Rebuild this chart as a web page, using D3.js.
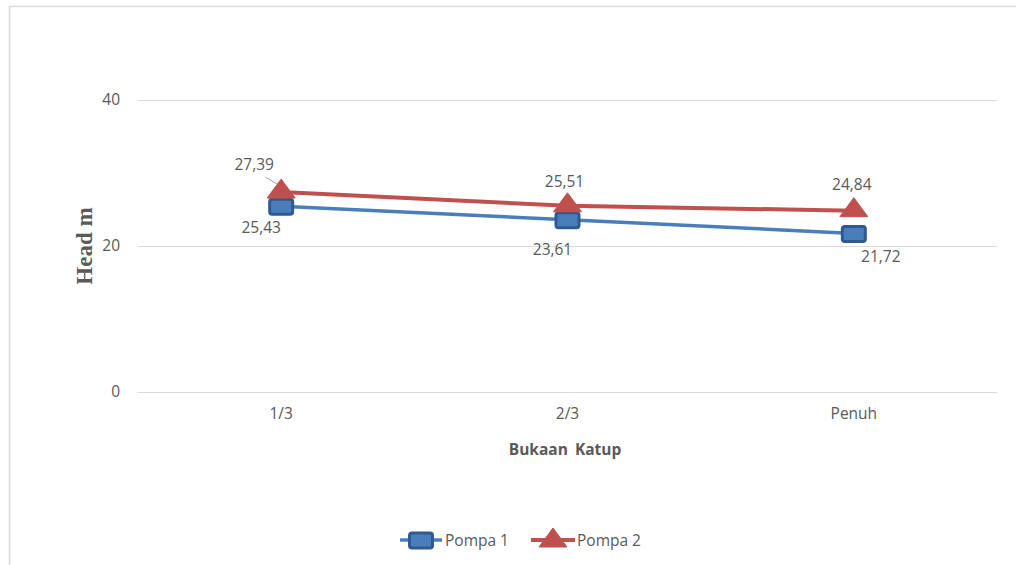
<!DOCTYPE html>
<html><head><meta charset="utf-8">
<script src="https://cdn.jsdelivr.net/npm/d3@7"></script>
<style>body{margin:0;background:#fff}svg{display:block}</style>
</head><body><svg id="c" width="1016" height="565"></svg>
<script>
const categories = ["1/3", "2/3", "Penuh"];
const pompa1 = [25.43, 23.61, 21.72];
const pompa2 = [27.39, 25.51, 24.84];
const yTicks = [0, 20, 40];
const seriesNames = ["Pompa 1", "Pompa 2"];

const svg = d3.select("#c");
const font = "'Open Sans', 'Noto Sans', sans-serif";
const grey = "#595959";
const blue = "#4a7ebb", blueDark = "#2f5a91", red = "#c0504d";
const fs = 15.5;

// chart border
svg.append("path").attr("d", "M9.5,1016 V6.5 H1016").attr("fill","none").attr("stroke","#d9d9d9").attr("stroke-width",1.5);

const plot = {l:138, r:997, t:100, b:392};
const x = d3.scaleBand().domain(categories).range([plot.l, plot.r]);
const y = d3.scaleLinear().domain([0, 40]).range([plot.b, plot.t]);

// gridlines
svg.append("g").selectAll("line").data(yTicks).join("line")
  .attr("x1", plot.l).attr("x2", plot.r)
  .attr("y1", d => y(d)+0.5).attr("y2", d => y(d)+0.5)
  .attr("stroke", "#d9d9d9").attr("stroke-width", 1);

// y axis
const yAx = svg.append("g").attr("transform", `translate(${plot.l},0)`)
  .call(d3.axisLeft(y).tickValues(yTicks).tickSize(0).tickPadding(18));
yAx.select(".domain").remove();
yAx.selectAll("text").attr("font-family", font).attr("font-size", fs).attr("fill", grey);

// x axis
const xAx = svg.append("g").attr("transform", `translate(0,${plot.b})`)
  .call(d3.axisBottom(x).tickSize(0).tickPadding(16));
xAx.select(".domain").remove();
xAx.selectAll("text").attr("font-family", font).attr("font-size", fs).attr("fill", grey);

// axis titles
svg.append("text").attr("x", 565).attr("y", 455).attr("text-anchor","middle")
  .attr("font-family", font).attr("font-size", 15.5).attr("font-weight","bold").attr("fill", grey)
  .attr("word-spacing", 3).text("Bukaan Katup");
svg.append("text").attr("transform","translate(92,246) rotate(-90)").attr("text-anchor","middle")
  .attr("font-family","'Liberation Serif', serif").attr("font-size", 23).attr("font-weight","bold").attr("fill", grey)
  .text("Head m");

const cx = c => x(c) + x.bandwidth()/2;
const line = d3.line().x((d,i) => cx(categories[i])).y(d => y(d));

svg.append("path").datum(pompa1).attr("d", line).attr("fill","none").attr("stroke", blue).attr("stroke-width", 3.5);
svg.append("path").datum(pompa2).attr("d", line).attr("fill","none").attr("stroke", red).attr("stroke-width", 4);

function square(g, px, py) {
  g.append("rect").attr("x", px-11.5).attr("y", py-7).attr("width", 23).attr("height", 15).attr("rx", 2.5)
    .attr("fill", blue).attr("stroke", blueDark).attr("stroke-width", 3);
}
function triangle(g, px, py) {
  g.append("path").attr("d", `M${px},${py-13} L${px+14},${py+6} L${px-14},${py+6} Z`)
    .attr("fill", red).attr("stroke", red).attr("stroke-width", 1).attr("stroke-linejoin","round");
}

const mk = svg.append("g");
pompa1.forEach((v,i) => square(mk, cx(categories[i]), y(v)));
pompa2.forEach((v,i) => triangle(mk, cx(categories[i]), y(v)));

// data labels
const fmt = v => v.toFixed(2).replace(".", ",");
const lab1Off = [[-20, 27], [-15, 35], [27, 29]];
const lab2Off = [[-27, -22], [-3, -19], [-2, -21]];
const labG = svg.append("g").attr("font-family", font).attr("font-size", fs).attr("fill", grey).attr("text-anchor","middle");
pompa1.forEach((v,i) => labG.append("text").attr("x", cx(categories[i]) + lab1Off[i][0]).attr("y", y(v) + lab1Off[i][1]).text(fmt(v)));
pompa2.forEach((v,i) => labG.append("text").attr("x", cx(categories[i]) + lab2Off[i][0]).attr("y", y(v) + lab2Off[i][1]).text(fmt(v)));
// leader line for first Pompa 2 label
svg.append("line").attr("x1", cx(categories[0]) - 16).attr("y1", y(pompa2[0]) - 15)
  .attr("x2", cx(categories[0]) - 4).attr("y2", y(pompa2[0]) - 8).attr("stroke", "#a6a6a6").attr("stroke-width", 1);

// legend
const lg = svg.append("g");
const ly = 540;
lg.append("line").attr("x1", 400).attr("x2", 442).attr("y1", ly).attr("y2", ly).attr("stroke", blue).attr("stroke-width", 3.5);
square(lg, 421, ly);
lg.append("text").attr("x", 445).attr("y", ly+5.5).attr("font-family", font).attr("font-size", fs).attr("fill", grey).text(seriesNames[0]);
lg.append("line").attr("x1", 531).attr("x2", 575).attr("y1", ly).attr("y2", ly).attr("stroke", red).attr("stroke-width", 4);
triangle(lg, 553, ly+1);
lg.append("text").attr("x", 577).attr("y", ly+5.5).attr("font-family", font).attr("font-size", fs).attr("fill", grey).text(seriesNames[1]);
</script></body></html>
